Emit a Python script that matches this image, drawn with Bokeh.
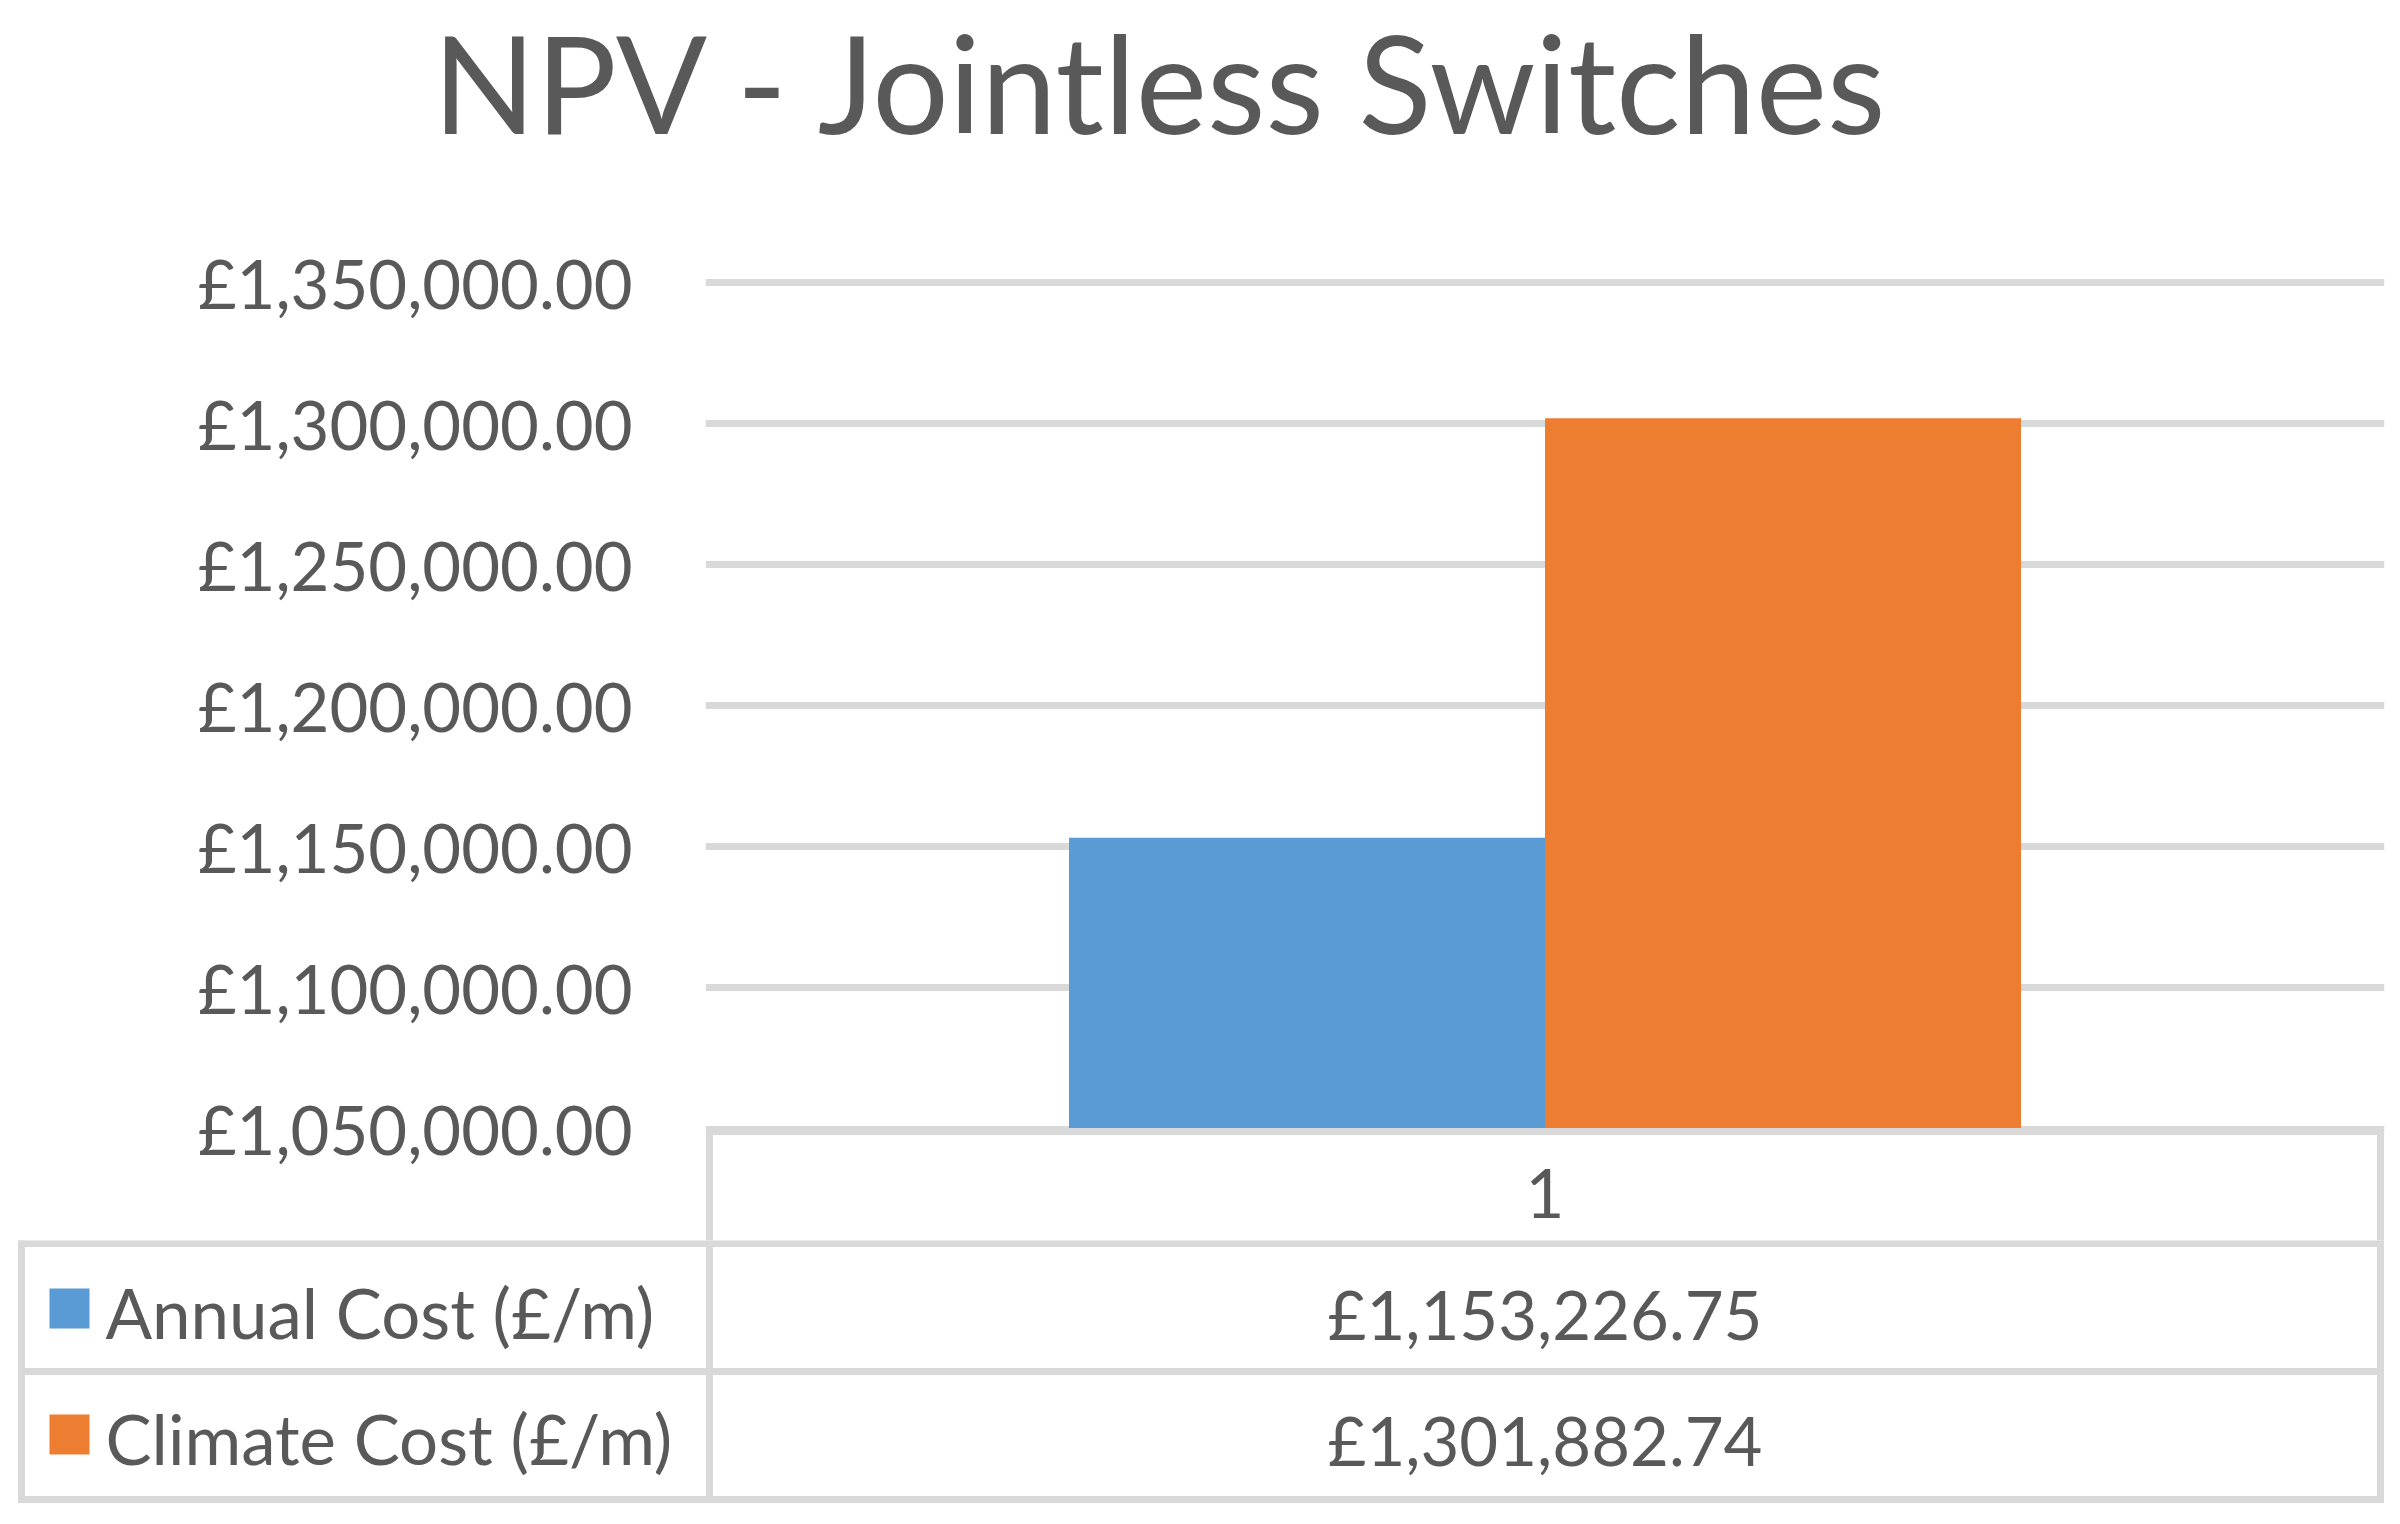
from bokeh.plotting import figure
from bokeh.models import Range1d, FactorRange, FixedTicker, ColumnDataSource
from bokeh.transform import dodge
from bokeh.layouts import column
from bokeh.core.properties import value
from bokeh.embed import file_html
from bokeh.resources import INLINE

# ---- data ----
title = "NPV - Jointless Switches"
categories = ["1"]
series_names = ["Annual Cost (£/m)", "Climate Cost (£/m)"]
annual_cost = [1153226.75]
climate_cost = [1301882.74]
tick_values = [1050000, 1100000, 1150000, 1200000, 1250000, 1300000, 1350000]
tick_labels = ["£1,050,000.00", "£1,100,000.00", "£1,150,000.00", "£1,200,000.00",
               "£1,250,000.00", "£1,300,000.00", "£1,350,000.00"]

# ---- style ----
FONT = value("Lato")
TXT = "#595959"
GRID = "#D9D9D9"
BLUE = "#5B9BD5"
ORANGE = "#ED7D31"
LW = 7
h = LW / 2
BL = 0.387  # baseline correction (em) for SVG text placement

def base_y(baseline, size):
    return baseline - BL * size

# ---- title strip (coordinates in page pixels) ----
TS = 135
p0 = figure(width=2400, height=240, x_range=Range1d(0, 2400), y_range=Range1d(240, 0),
            x_axis_type=None, y_axis_type=None, min_border=0, frame_align=False,
            toolbar_location=None, output_backend="svg")
p0.outline_line_color = None
p0.grid.visible = False
p0.text(x=[1163], y=[base_y(134, TS)], text=[title], text_align="center",
        text_baseline="alphabetic", text_font=FONT, text_font_size=f"{TS}px", text_color=TXT)

# ---- chart ----
FL, FR = 705, 2384
FRAME_W = FR - FL
px_per = 846.5 / 300000.0
y_hi = 1350000 + (282 - 254) / px_per
y_lo = 1050000 - (1240 - 1128.5) / px_per

src = ColumnDataSource(dict(cat=categories, annual=annual_cost, climate=climate_cost,
                            base=[tick_values[0]] * len(categories)))

p1 = figure(width=2400, height=1000, x_range=FactorRange(factors=categories, range_padding=0),
            y_range=Range1d(y_lo, y_hi), x_axis_location=None,
            min_border_left=FL, min_border_right=2400 - FR, min_border_top=14,
            min_border_bottom=0, frame_align=False, toolbar_location=None,
            output_backend="svg")
p1.extra_y_ranges = {"px": Range1d(1240, 254)}
p1.outline_line_color = None
p1.xgrid.visible = False
p1.ygrid.grid_line_color = GRID
p1.ygrid.grid_line_width = LW
ax = p1.yaxis[0]
ax.ticker = FixedTicker(ticks=tick_values)
ax.major_label_overrides = {v: l for v, l in zip(tick_values, tick_labels)}
ax.axis_line_color = None
ax.major_tick_line_color = None
ax.minor_tick_line_color = None
ax.major_tick_out = 0
ax.major_tick_in = 0
ax.major_label_standoff = 73
ax.major_label_text_font = "Lato"
ax.major_label_text_font_size = "67px"
ax.major_label_text_color = TXT

bw = 476 / FRAME_W
p1.vbar(x=dodge("cat", -bw / 2, range=p1.x_range), top="annual", bottom="base", width=bw,
        fill_color=BLUE, line_color=None, source=src)
p1.vbar(x=dodge("cat", bw / 2, range=p1.x_range), top="climate", bottom="base", width=bw,
        fill_color=ORANGE, line_color=None, source=src)

# header row of the data table, drawn inside the chart frame
edge = (2380 - 709) / 2 / FRAME_W        # cell edge offset from the category centre
ext = edge + h / FRAME_W
hdr = ColumnDataSource(dict(cat=categories))
p1.segment(x0=dodge("cat", -ext, range=p1.x_range), x1=dodge("cat", ext, range=p1.x_range),
           y0=1131, y1=1131, line_color=GRID, line_width=LW, line_cap="butt",
           y_range_name="px", source=hdr)
for off in (-edge, edge):
    p1.segment(x0=dodge("cat", off, range=p1.x_range), x1=dodge("cat", off, range=p1.x_range),
               y0=1131 - h, y1=1240, line_color=GRID, line_width=LW, line_cap="butt",
               y_range_name="px", source=hdr)
p1.text(x="cat", y=base_y(1219, 67), text="cat", text_align="center",
        text_baseline="alphabetic", text_font=FONT, text_font_size="67px", text_color=TXT,
        y_range_name="px", source=hdr)

# ---- data table rows (coordinates in page pixels) ----
p2 = figure(width=2400, height=280, x_range=Range1d(0, 2400), y_range=Range1d(1520, 1240),
            x_axis_type=None, y_axis_type=None, min_border=0, frame_align=False,
            toolbar_location=None, output_backend="svg")
p2.outline_line_color = None
p2.grid.visible = False

seg_x0 = [709, 2380, 21, 21 - h, 21 - h, 21 - h]
seg_x1 = [709, 2380, 21, 2380 + h, 2380 + h, 2380 + h]
seg_y0 = [1238, 1238, 1243 - h, 1243, 1371, 1499]
seg_y1 = [1499 + h, 1499 + h, 1499 + h, 1243, 1371, 1499]
p2.segment(x0=seg_x0, y0=seg_y0, x1=seg_x1, y1=seg_y1, line_color=GRID, line_width=LW,
           line_cap="butt")

cell_x = (709 + 2380) / 2
row_base = [1339, 1465]
row_top = [1288, 1414]
colors = [BLUE, ORANGE]
vals = [annual_cost[0], climate_cost[0]]
p2.quad(left=[49, 49], right=[89, 89], top=row_top, bottom=[t + 40 for t in row_top],
        fill_color=colors, line_color=None)
p2.text(x=[105, 105], y=[base_y(b, 69) for b in row_base], text=series_names,
        text_align="left", text_baseline="alphabetic", text_font=FONT,
        text_font_size="69px", text_color=TXT)
p2.text(x=[cell_x, cell_x], y=[base_y(b, 67) for b in row_base],
        text=[f"£{v:,.2f}" for v in vals], text_align="center", text_baseline="alphabetic",
        text_font=FONT, text_font_size="67px", text_color=TXT)

layout = column(p0, p1, p2, spacing=0)
open("out.html", "w").write(file_html(layout, INLINE))
